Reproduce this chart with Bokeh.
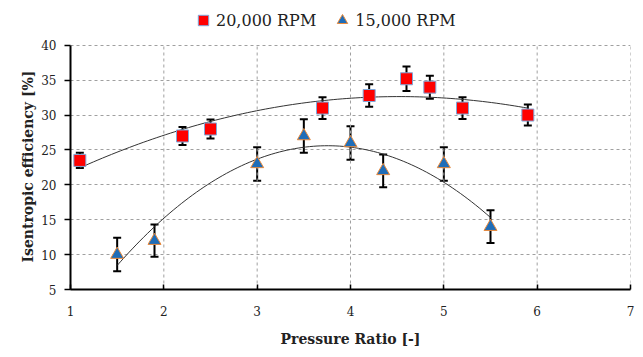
import numpy as np
from bokeh.plotting import figure
from bokeh.models import (ColumnDataSource, Whisker, TeeHead, Legend, LegendItem,
                          FixedTicker, Range1d, Title)
from bokeh.embed import file_html
from bokeh.resources import INLINE

# ---- data ----
rpm20_x = [1.1, 2.2, 2.5, 3.7, 4.2, 4.6, 4.85, 5.2, 5.9]
rpm20_y = [23.5, 27.0, 28.0, 31.0, 32.8, 35.2, 34.0, 31.0, 30.0]
rpm20_err = [1.1, 1.3, 1.35, 1.55, 1.6, 1.75, 1.65, 1.55, 1.5]

rpm15_x = [1.5, 1.9, 3.0, 3.5, 4.0, 4.35, 5.0, 5.5]
rpm15_y = [10.0, 12.0, 23.0, 27.0, 26.0, 22.0, 23.0, 14.0]
rpm15_err = [2.4, 2.3, 2.4, 2.4, 2.4, 2.35, 2.4, 2.35]

x_ticks = [1, 2, 3, 4, 5, 6, 7]
y_ticks = [5, 10, 15, 20, 25, 30, 35, 40]

FONT = "DejaVu Serif"
Y_MIN, Y_MAX = 5, 40

# the frame reaches above y=40 so the legend can sit in it, over the plot area
p = figure(width=643, height=357, output_backend="svg", toolbar_location=None,
           x_range=Range1d(1, 7), y_range=Range1d(Y_MIN, 45.7))
p.min_border_left = 70
p.min_border_right = 13
p.min_border_top = 5
p.min_border_bottom = 68
p.outline_line_color = None
p.background_fill_color = "white"
p.border_fill_color = "white"

# axes
p.xaxis.ticker = FixedTicker(ticks=x_ticks)
p.yaxis.ticker = FixedTicker(ticks=y_ticks)
p.yaxis.bounds = (Y_MIN, Y_MAX)
for ax in (p.xaxis[0], p.yaxis[0]):
    ax.axis_line_color = "black"
    ax.axis_line_width = 2
    ax.major_tick_line_color = "black"
    ax.major_tick_line_width = 1.5
    ax.minor_tick_line_color = None
    ax.major_label_text_font = FONT
    ax.major_label_text_font_size = "12px"
    ax.major_label_text_color = "#222222"
    ax.axis_label_text_font = FONT
    ax.axis_label_text_font_size = "14px"
    ax.axis_label_text_font_style = "bold"
    ax.axis_label_text_color = "#222222"
p.xaxis.major_tick_in = 5
p.xaxis.major_tick_out = 0
p.yaxis.major_tick_in = 0
p.yaxis.major_tick_out = 6
p.xaxis.major_label_standoff = 16
p.yaxis.major_label_standoff = 8
p.xaxis.axis_label = "Pressure Ratio [-]"
p.xaxis.axis_label_standoff = 12

# y title: anchored from the bottom of the frame so it is centred on 5..40
ytitle = Title(text="Isentropic efficiency [%]", align="left", offset=27,
               text_font=FONT, text_font_size="14px", text_font_style="bold",
               text_color="#222222", standoff=6)
p.add_layout(ytitle, "left")

# grid: horizontal lines from the grid, vertical dashed lines limited to 5..40
p.xgrid.grid_line_color = None
p.ygrid.grid_line_color = "#A0A0A0"
p.ygrid.grid_line_dash = "3 3"
p.ygrid.grid_line_width = 1
p.segment(x0=x_ticks[1:], y0=[Y_MIN] * (len(x_ticks) - 1),
          x1=x_ticks[1:], y1=[Y_MAX] * (len(x_ticks) - 1),
          line_color="#A0A0A0", line_dash="3 3", line_width=1)

# sources
s20 = ColumnDataSource(dict(x=rpm20_x, y=rpm20_y,
                            lo=[a - b for a, b in zip(rpm20_y, rpm20_err)],
                            hi=[a + b for a, b in zip(rpm20_y, rpm20_err)]))
s15 = ColumnDataSource(dict(x=rpm15_x, y=rpm15_y,
                            lo=[a - b for a, b in zip(rpm15_y, rpm15_err)],
                            hi=[a + b for a, b in zip(rpm15_y, rpm15_err)]))

# trendlines (2nd order least squares fit of the data, like a spreadsheet trendline)
for xs, ys in ((rpm20_x, rpm20_y), (rpm15_x, rpm15_y)):
    c = np.polyfit(xs, ys, 2)
    xx = np.linspace(min(xs), max(xs), 100)
    p.line(xx, np.polyval(c, xx), line_color="#333333", line_width=1)

# error bars
for s in (s20, s15):
    w = Whisker(source=s, base="x", upper="hi", lower="lo",
                line_color="black", line_width=2,
                upper_head=TeeHead(size=8, line_color="black", line_width=2),
                lower_head=TeeHead(size=8, line_color="black", line_width=2))
    p.add_layout(w)

r20 = p.scatter("x", "y", source=s20, marker="square", size=12,
                fill_color="#FF0000", line_color="#7FA7D9", line_width=1)
r15 = p.scatter("x", "y", source=s15, marker="triangle", size=13,
                fill_color="#1F6DB8", line_color="#E98A3C", line_width=1)

legend = Legend(items=[LegendItem(label="20,000 RPM", renderers=[r20]),
                       LegendItem(label="15,000 RPM", renderers=[r15])],
                orientation="horizontal", location=(120, 256))
legend.label_text_font = FONT
legend.label_text_font_size = "16px"
legend.label_text_color = "#222222"
legend.glyph_width = 26
legend.glyph_height = 26
legend.label_standoff = 0
legend.spacing = 13
legend.padding = 0
legend.margin = 0
legend.border_line_color = None
legend.background_fill_alpha = 0
p.add_layout(legend, "center")

open("out.html", "w").write(file_html(p, INLINE))
